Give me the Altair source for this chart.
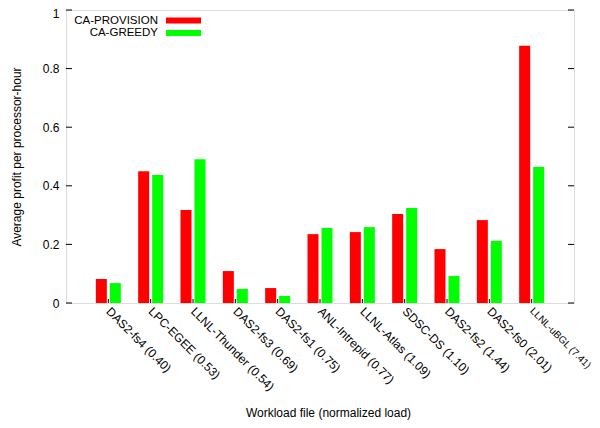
import altair as alt
import pandas as pd

categories = ["DAS2-fs4 (0.40)", "LPC-EGEE (0.53)", "LLNL-Thunder (0.54)", "DAS2-fs3 (0.69)",
              "DAS2-fs1 (0.75)", "ANL-Intrepid (0.77)", "LLNL-Atlas (1.09)", "SDSC-DS (1.10)",
              "DAS2-fs2 (1.44)", "DAS2-fs0 (2.01)", "LLNL-uBGL (7.41)"]
provision = [0.082, 0.450, 0.317, 0.109, 0.051, 0.235, 0.242, 0.304, 0.184, 0.283, 0.878]
greedy = [0.068, 0.437, 0.491, 0.048, 0.024, 0.256, 0.259, 0.324, 0.092, 0.212, 0.464]
series_names = ["CA-PROVISION", "CA-GREEDY"]
series_colors = ["#ff0000", "#00ff00"]
y_ticks = [0, 0.2, 0.4, 0.6, 0.8, 1.0]

FONT = "Liberation Sans"
W, H = 508, 293

rows = []
for c, p, g in zip(categories, provision, greedy):
    rows.append({"workload": c, "series": series_names[0], "value": p})
    rows.append({"workload": c, "series": series_names[1], "value": g})
df = pd.DataFrame(rows)

last_label = categories[-1]
x_enc = alt.X("workload:N", sort=categories,
              scale=alt.Scale(paddingInner=0, paddingOuter=0.5),
              axis=alt.Axis(title="Workload file (normalized load)", labelAngle=45,
                            labelAlign="left", labelBaseline="middle", labelPadding=6,
                            ticks=False, domain=False, grid=False,
                            labelFont=FONT,
                            labelFontSize={"condition": {"test": f"datum.value === '{last_label}'",
                                                         "value": 10}, "value": 12},
                            labelColor="black",
                            titleFont=FONT, titleFontSize=12, titleFontWeight="normal",
                            titleColor="black", titleX=262, titleY=109,
                            titleBaseline="middle"))

bars = alt.Chart(df).mark_bar().encode(
    x=x_enc,
    xOffset=alt.XOffset("series:N", sort=series_names,
                        scale=alt.Scale(paddingInner=0.214, paddingOuter=0.619)),
    y=alt.Y("value:Q", scale=alt.Scale(domain=[0, 1], nice=False),
            axis=alt.Axis(title="Average profit per processor-hour", values=y_ticks,
                          format="~g", ticks=False, domain=False, grid=False,
                          labelPadding=7, labelFont=FONT, labelFontSize=12,
                          labelOffset={"condition": {"test": "datum.value === 1", "value": 3},
                                       "value": 0},
                          labelColor="black", titleFont=FONT, titleFontSize=12,
                          titleFontWeight="normal", titleColor="black",
                          titleX=-50, titleY=146.5, titleBaseline="middle")),
    color=alt.Color("series:N", scale=alt.Scale(domain=series_names, range=series_colors),
                    legend=None),
)

tick_df = pd.DataFrame({"v": y_ticks})
ytick_left = alt.Chart(tick_df).mark_rule(color="black", strokeWidth=1).encode(
    y="v:Q", x=alt.value(0), x2=alt.value(6))
ytick_right = alt.Chart(tick_df).mark_rule(color="black", strokeWidth=1).encode(
    y="v:Q", x=alt.value(W - 6), x2=alt.value(W))

xtick_df = pd.DataFrame({"workload": categories})
xticks = alt.Chart(xtick_df).mark_rule(color="black", strokeWidth=1).encode(
    x=alt.X("workload:N", sort=categories), y=alt.value(H), y2=alt.value(H - 4))

legend_layers = []
for i, (name, col) in enumerate(zip(series_names, series_colors)):
    ldf = pd.DataFrame({"series": [name]})
    yc = 10.5 + 12.5 * i
    legend_layers.append(
        alt.Chart(ldf).mark_text(align="right", baseline="middle", font=FONT,
                                 fontSize=11.5, color="black").encode(
            text="series:N", x=alt.value(92), y=alt.value(yc)))
    legend_layers.append(
        alt.Chart(ldf).mark_rect(color=col).encode(
            x=alt.value(100), x2=alt.value(135), y=alt.value(yc - 3), y2=alt.value(yc + 3)))

chart = alt.layer(bars, ytick_left, ytick_right, xticks, *legend_layers).properties(
    width=W, height=H,
    autosize=alt.AutoSizeParams(type="none"),
    padding={"left": 58, "top": 2, "right": 18, "bottom": 118},
).configure_view(stroke="black", strokeWidth=1.2).configure(background="white")

chart.save("out.html", embed_options={"renderer": "svg", "actions": False})
